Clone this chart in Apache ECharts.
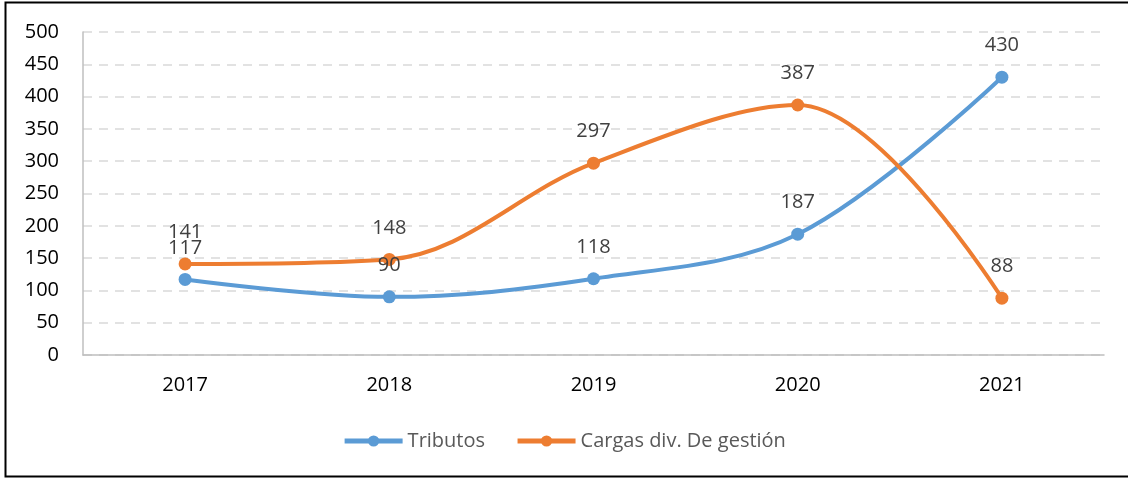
<!DOCTYPE html>
<html>
<head>
<meta charset="utf-8">
<script src="https://cdn.jsdelivr.net/npm/echarts@6/dist/echarts.min.js"></script>
<style>
  html, body { margin: 0; padding: 0; background: #fff; }
  #chart_id { width: 1128px; height: 478px; }
</style>
</head>
<body>
<div id="chart_id"></div>
<script>
const years = ['2017', '2018', '2019', '2020', '2021'];
const tributos = [117, 90, 118, 187, 430];
const cargas = [141, 148, 297, 387, 88];
const seriesNames = ['Tributos', 'Cargas div. De gestión'];

const FONT = '"Open Sans", sans-serif';

const myChart = echarts.init(document.getElementById('chart_id'));

function lineSeries(name, data, col) {
  return {
    name: name,
    type: 'line',
    data: data,
    smooth: 0.35,
    symbol: 'circle',
    symbolSize: 13,
    color: col,
    lineStyle: { width: 4, color: col },
    itemStyle: { color: col },
    label: {
      show: true,
      position: 'top',
      distance: 15,
      color: '#404040',
      fontSize: 20,
      fontFamily: FONT,
    },
  };
}

const option = {
  animation: false,
  grid: {
    left: 83,
    right: 24,
    top: 32,
    bottom: 123,
  },
  legend: {
    bottom: 22,
    left: 'center',
    itemWidth: 58,
    itemHeight: 14,
    itemGap: 30,
    lineStyle: { width: 5 },
    textStyle: { color: '#595959', fontSize: 20, fontFamily: FONT },
    data: seriesNames,
  },
  xAxis: {
    type: 'category',
    data: years,
    boundaryGap: true,
    axisLine: { lineStyle: { color: '#bfbfbf', width: 1.5 } },
    axisTick: { show: false },
    axisLabel: { color: '#000', fontSize: 20, fontFamily: FONT, margin: 20 },
  },
  yAxis: {
    type: 'value',
    min: 0,
    max: 500,
    interval: 50,
    axisLine: { show: true, lineStyle: { color: '#bfbfbf', width: 1.5 } },
    axisTick: { show: false },
    axisLabel: { color: '#000', fontSize: 20, fontFamily: FONT, margin: 24 },
    splitLine: {
      lineStyle: { color: '#d9d9d9', type: [9, 7], width: 1.5 },
    },
  },
  graphic: [
    {
      type: 'polyline',
      shape: { points: [[1128, 2.5], [5.5, 2.5], [5.5, 476.5], [1128, 476.5]] },
      style: { stroke: '#000', lineWidth: 2, fill: null },
      silent: true,
    },
  ],
  series: [
    lineSeries(seriesNames[0], tributos, '#5b9bd5'),
    lineSeries(seriesNames[1], cargas, '#ed7d31'),
  ],
};

myChart.setOption(option);
window.onresize = myChart.resize;
</script>
</body>
</html>
